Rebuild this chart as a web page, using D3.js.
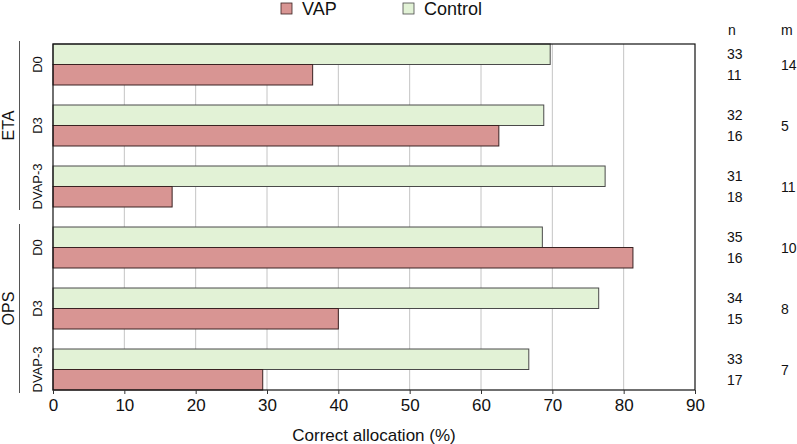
<!DOCTYPE html>
<html>
<head>
<meta charset="UTF-8">
<script src="https://d3js.org/d3.v7.min.js"></script>
<style>
  body { margin: 0; background: #fff; }
  svg { font-family: "Liberation Sans", Arial, sans-serif; }
</style>
</head>
<body>
<svg id="chart" width="797" height="444"></svg>
<script>
const groups = ["ETA", "ETA", "ETA", "OPS", "OPS", "OPS"];
const conditions = ["D0", "D3", "DVAP-3", "D0", "D3", "DVAP-3"];
const control = [69.7, 68.8, 77.4, 68.6, 76.5, 66.7];
const vap = [36.4, 62.5, 16.7, 81.3, 40.0, 29.4];
const nControl = [33, 32, 31, 35, 34, 33];
const nVap = [11, 16, 18, 16, 15, 17];
const mVals = [14, 5, 11, 10, 8, 7];
const ticks = [0, 10, 20, 30, 40, 50, 60, 70, 80, 90];

const keys = groups.map((g, i) => g + "-" + conditions[i]);
const rows = keys.map((k, i) => ({ key: k, cond: conditions[i], control: control[i], vap: vap[i],
  nc: nControl[i], nv: nVap[i], m: mVals[i] }));

const mLeft = 53, mRight = 695, mTop = 44, mBottom = 390;
const svg = d3.select("#chart");

const x = d3.scaleLinear().domain([0, 90]).range([mLeft, mRight]);
const y = d3.scaleBand().domain(keys).range([mTop, mBottom]).paddingInner(0.328).paddingOuter(0);
const sub = d3.scaleBand().domain(["control", "vap"]).range([0, y.bandwidth()]);

const colors = { control: "#e2f2d6", vap: "#d89593" };
const strokes = { control: "#4a4a4a", vap: "#3a2222" };

// grid
svg.append("g").selectAll("line")
  .data(ticks.slice(1, -1))
  .join("line")
  .attr("x1", d => x(d)).attr("x2", d => x(d))
  .attr("y1", mTop).attr("y2", mBottom)
  .attr("stroke", "#c4c4c4").attr("stroke-width", 1);

// bars
const g = svg.append("g").selectAll("g")
  .data(rows).join("g")
  .attr("transform", d => `translate(0,${y(d.key)})`);

["control", "vap"].forEach(s => {
  g.append("rect")
    .attr("x", x(0))
    .attr("y", sub(s))
    .attr("width", d => x(d[s]) - x(0))
    .attr("height", sub.bandwidth())
    .attr("fill", colors[s])
    .attr("stroke", strokes[s])
    .attr("stroke-width", 1);
});

// box
svg.append("rect")
  .attr("x", mLeft).attr("y", mTop)
  .attr("width", mRight - mLeft).attr("height", mBottom - mTop)
  .attr("fill", "none").attr("stroke", "#111").attr("stroke-width", 1.2);

// x axis
const xAxis = svg.append("g")
  .attr("transform", `translate(0,${mBottom})`)
  .call(d3.axisBottom(x).tickValues(ticks).tickSize(4).tickPadding(5));
xAxis.select(".domain").remove();
xAxis.selectAll("line").attr("stroke", "#333");
xAxis.selectAll("text").attr("font-size", 17).attr("fill", "#111")
  .attr("font-family", "Liberation Sans, Arial, sans-serif");

svg.append("text")
  .attr("x", 374).attr("y", 441)
  .attr("text-anchor", "middle").attr("font-size", 17).attr("fill", "#111")
  .text("Correct allocation (%)");

// category labels
svg.append("g").selectAll("text")
  .data(rows).join("text")
  .attr("transform", d => `translate(42,${y(d.key) + y.bandwidth() / 2}) rotate(-90)`)
  .attr("text-anchor", "middle")
  .attr("font-size", 13).attr("fill", "#111")
  .text(d => d.cond);

// group labels and brackets
["ETA", "OPS"].forEach(grp => {
  const ks = keys.filter((k, i) => groups[i] === grp);
  const y0 = y(ks[0]) - 3, y1 = y(ks[ks.length - 1]) + y.bandwidth() + 3;
  svg.append("line")
    .attr("x1", 19.5).attr("x2", 19.5).attr("y1", y0).attr("y2", y1)
    .attr("stroke", "#555").attr("stroke-width", 1);
  svg.append("text")
    .attr("transform", `translate(14,${(y0 + y1) / 2}) rotate(-90)`)
    .attr("text-anchor", "middle").attr("font-size", 16).attr("fill", "#111")
    .text(grp);
});

// n / m columns
svg.append("text").attr("x", 728).attr("y", 35).attr("font-size", 14).attr("fill", "#111").text("n");
svg.append("text").attr("x", 781).attr("y", 35).attr("font-size", 14).attr("fill", "#111").text("m");

const side = svg.append("g").attr("font-size", 14).attr("fill", "#111");
side.selectAll(".nc").data(rows).join("text").attr("class", "nc")
  .attr("x", 727).attr("y", d => y(d.key) + sub("control") + sub.bandwidth() / 2)
  .attr("dy", "0.36em").text(d => d.nc);
side.selectAll(".nv").data(rows).join("text").attr("class", "nv")
  .attr("x", 727).attr("y", d => y(d.key) + sub("vap") + sub.bandwidth() / 2)
  .attr("dy", "0.36em").text(d => d.nv);
side.selectAll(".m").data(rows).join("text").attr("class", "m")
  .attr("x", 781).attr("y", d => y(d.key) + y.bandwidth() / 2)
  .attr("dy", "0.36em").text(d => d.m);

// legend
const legend = [{ label: "VAP", s: "vap", x: 281 }, { label: "Control", s: "control", x: 403 }];
const lg = svg.append("g").selectAll("g").data(legend).join("g")
  .attr("transform", d => `translate(${d.x},3)`);
lg.append("rect").attr("width", 11).attr("height", 11)
  .attr("fill", d => colors[d.s]).attr("stroke", d => strokes[d.s]).attr("stroke-width", 0.8);
lg.append("text").attr("x", 21).attr("y", 12).attr("font-size", 18).attr("fill", "#111")
  .text(d => d.label);
</script>
</body>
</html>
